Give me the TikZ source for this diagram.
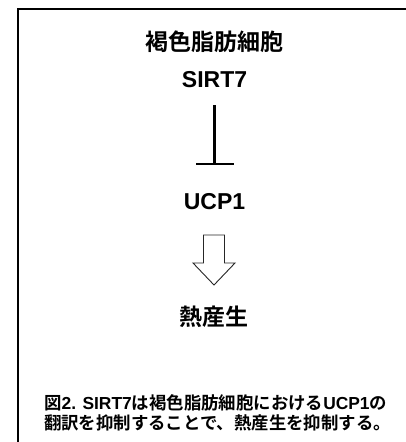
\documentclass[tikz,border=0pt]{standalone}
\usepackage{fontspec}
\usetikzlibrary{arrows.meta}
\setmainfont{Liberation Sans}
\newfontfamily\jp[UprightFont={* Medium},BoldFont={* Bold}]{Noto Sans CJK JP}
\begin{document}
\begin{tikzpicture}[x=1pt,y=-1pt,
  frameline/.style={line width=1.4pt},
  jptitle/.style={font=\jp\bfseries\fontsize{23}{27}\selectfont},
  gene/.style={font=\bfseries\fontsize{23}{27}\selectfont},
  inhibit/.style={line width=2.2pt,-{Bar[width=38pt,line width=2.2pt]}},
  hollow/.style={draw=black!85,line width=0.9pt,fill=white},
  captionstyle/.style={font=\fontsize{17.4}{20.5}\selectfont,align=left,anchor=west,inner sep=0pt}]
\useasboundingbox (0,0) rectangle (406,442);
\draw[frameline] (18,442) -- (18,9) -- (406,9);
\node[jptitle] (title) at (214,42) {褐色脂肪細胞};
\node[gene] (sirt) at (214.5,80) {SIRT7};
\node[gene] (ucp) at (214.5,202) {UCP1};
\node[jptitle] (heat) at (214,317) {熱産生};
\draw[inhibit, shorten <=25pt, shorten >=37pt] (sirt.center) -- (ucp.center);
\draw[hollow] (203.5,235) -- (224.5,235) -- (224.5,263) -- (235,263) -- (214,285)
  -- (193,263) -- (203.5,263) -- cycle;
\node[captionstyle] (cap) at (44,413) {{\jp\bfseries 図}{\bfseries 2. SIRT7}{\jp\bfseries は褐色脂肪細胞における}{\bfseries UCP1}{\jp\bfseries の}\\
{\jp\bfseries 翻訳を抑制することで、熱産生を抑制する。}};
\end{tikzpicture}
\end{document}
